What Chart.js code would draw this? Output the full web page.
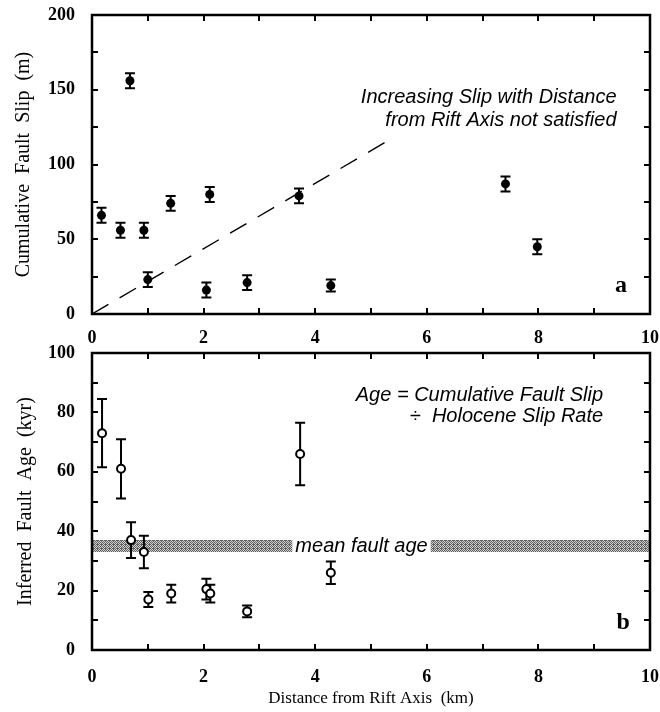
<!DOCTYPE html>
<html>
<head>
<meta charset="utf-8">
<script src="https://cdn.jsdelivr.net/npm/chart.js@4.4.1/dist/chart.umd.min.js"></script>
<style>
  html, body { margin: 0; padding: 0; background: #fff; }
  #wrap { position: relative; width: 660px; height: 712px; }
  #wrap canvas { position: absolute; left: 0; }
  #slipCanvas { top: 0; }
  #ageCanvas { top: 340px; }
</style>
</head>
<body>
<div id="wrap">
  <canvas id="slipCanvas" width="660" height="350"></canvas>
  <canvas id="ageCanvas" width="660" height="372"></canvas>
</div>
<script>
// panel a: cumulative fault slip (m) vs distance from rift axis (km)
const slipDistance = [0.17, 0.51, 0.68, 0.93, 1.00, 1.41, 2.05, 2.11, 2.78, 3.71, 4.28, 7.41, 7.98];
const slipValue    = [66, 56, 156, 56, 23, 74, 16, 80, 21, 79, 19, 87, 45];
const slipError    = [5, 5, 5, 5, 5, 5, 5, 5, 5, 5, 4, 5, 5];

// dashed reference line (slip increasing with distance)
const trendDistance = [0, 5.4];
const trendSlip     = [0, 118];

// panel b: inferred fault age (kyr)
const ageDistance = [0.18, 0.52, 0.70, 0.93, 1.01, 1.42, 2.05, 2.12, 2.78, 3.73, 4.28];
const ageValue    = [73, 61, 37, 33, 17, 19, 20.5, 19, 13, 66, 26];
const ageError    = [11.5, 10, 6, 5.5, 2.5, 3, 3.5, 3, 2, 10.5, 3.8];

// mean fault age band
const bandDistance = [0, 10];
const bandLow      = [33, 33];
const bandHigh     = [37, 37];

const serif = "'Liberation Serif', 'Times New Roman', serif";
const sans = "'Liberation Sans', Arial, sans-serif";

const toPoints = (xs, ys) => xs.map((x, i) => ({ x, y: ys[i] }));

const bandPattern = (() => {
    const c = document.createElement('canvas');
    c.width = 4;
    c.height = 4;
    const g = c.getContext('2d');
    g.fillStyle = '#d0d0d0';
    g.fillRect(0, 0, 4, 4);
    g.fillStyle = '#606060';
    [[0, 0], [2, 0], [1, 1], [3, 1], [0, 2], [2, 2], [1, 3], [3, 3], [1, 0]].forEach(([px, py]) => g.fillRect(px, py, 1, 1));
    return g.createPattern(c, 'repeat');
})();

// inward ticks on all four sides plus the heavy frame
const frameTicks = {
    id: 'frameTicks',
    afterDraw(chart) {
        const { ctx, chartArea: { left, right, top, bottom }, scales: { x, y } } = chart;
        const len = 6;
        ctx.save();
        ctx.strokeStyle = '#000';
        ctx.lineWidth = 2;
        ctx.beginPath();
        x.ticks.forEach((t) => {
            if (t.value <= x.min || t.value >= x.max) return;
            const px = Math.round(x.getPixelForValue(t.value));
            ctx.moveTo(px, bottom); ctx.lineTo(px, bottom - len);
            ctx.moveTo(px, top); ctx.lineTo(px, top + len);
        });
        y.ticks.forEach((t) => {
            if (t.value <= y.min || t.value >= y.max) return;
            const py = Math.round(y.getPixelForValue(t.value));
            ctx.moveTo(left, py); ctx.lineTo(left + len, py);
            ctx.moveTo(right, py); ctx.lineTo(right - len, py);
        });
        ctx.stroke();
        ctx.lineWidth = 2.5;
        ctx.strokeRect(left, top, right - left, bottom - top);
        ctx.restore();
    },
};

// vertical error bars with caps, drawn just before their points
const errorBars = {
    id: 'errorBars',
    beforeDatasetDraw(chart, args) {
        const ds = chart.data.datasets[args.index];
        if (!ds.errors) return;
        const { ctx, scales: { x, y } } = chart;
        const cap = 5;
        ctx.save();
        ctx.strokeStyle = '#000';
        ctx.lineWidth = 2;
        ctx.beginPath();
        ds.data.forEach((p, i) => {
            const px = x.getPixelForValue(p.x);
            const hi = y.getPixelForValue(p.y + ds.errors[i]);
            const lo = y.getPixelForValue(p.y - ds.errors[i]);
            ctx.moveTo(px, hi); ctx.lineTo(px, lo);
            ctx.moveTo(px - cap, hi); ctx.lineTo(px + cap, hi);
            ctx.moveTo(px - cap, lo); ctx.lineTo(px + cap, lo);
        });
        ctx.stroke();
        ctx.restore();
    },
};

// free text placed in data coordinates
const notes = {
    id: 'notes',
    afterDatasetsDraw(chart, args, opts) {
        const { ctx, scales: { x, y } } = chart;
        (opts.items || []).forEach((n) => {
            ctx.save();
            ctx.font = n.font;
            ctx.textAlign = n.align || 'left';
            ctx.textBaseline = n.baseline || 'alphabetic';
            const px = x.getPixelForValue(n.x);
            const py = y.getPixelForValue(n.y);
            if (n.clear) {
                const w = ctx.measureText(n.text).width;
                ctx.fillStyle = '#fff';
                ctx.fillRect(px - w / 2 - 3, py - 9, w + 6, 18);
            }
            ctx.fillStyle = '#000';
            ctx.fillText(n.text, px, py);
            ctx.restore();
        });
    },
};

const tickFont = { family: serif, size: 18, weight: 'bold' };

const xScale = (labelPad, height, title) => ({
    type: 'linear',
    min: 0,
    max: 10,
    grid: { display: false },
    border: { display: false },
    ticks: {
        stepSize: 1,
        autoSkip: false,
        maxRotation: 0,
        padding: labelPad,
        color: '#000',
        font: tickFont,
        callback: (v) => (v % 2 === 0 ? String(v) : ''),
    },
    title: title || { display: false },
    afterFit: (scale) => {
        scale.height = height;
        scale.paddingLeft = 0;
        scale.paddingRight = 0;
    },
});

const yScale = (max, step, labelStep, title) => ({
    min: 0,
    max,
    grid: { display: false },
    border: { display: false },
    ticks: {
        stepSize: step,
        autoSkip: false,
        padding: 9,
        color: '#000',
        font: tickFont,
        callback: (v) => (v % labelStep === 0 ? String(v) : ''),
    },
    title,
    afterFit: (scale) => {
        scale.width = 92;
        scale.paddingTop = 0;
        scale.paddingBottom = 0;
    },
});

Chart.defaults.animation = false;

new Chart(document.getElementById('slipCanvas'), {
    type: 'scatter',
    data: {
        datasets: [
            {
                data: toPoints(slipDistance, slipValue),
                errors: slipError,
                pointRadius: 4.5,
                pointBackgroundColor: '#000',
                pointBorderColor: '#000',
                pointBorderWidth: 0,
                order: 0,
            },
            {
                type: 'line',
                data: toPoints(trendDistance, trendSlip),
                borderColor: '#000',
                borderWidth: 1.4,
                borderDash: [19, 13],
                pointRadius: 0,
                order: 1,
            },
        ],
    },
    options: {
        responsive: false,
        layout: { padding: { left: 0, right: 10, top: 15, bottom: 0 } },
        plugins: {
            legend: { display: false },
            tooltip: { enabled: false },
            notes: {
                items: [
                    { text: 'Increasing Slip with Distance', x: 9.4, y: 141, align: 'right', font: `italic 20px ${sans}` },
                    { text: 'from Rift Axis not satisfied', x: 9.4, y: 125.5, align: 'right', font: `italic 20px ${sans}` },
                    { text: 'a', x: 9.48, y: 19, align: 'center', baseline: 'middle', font: `bold 24px ${serif}` },
                ],
            },
        },
        scales: {
            x: xScale(6, 36),
            y: yScale(200, 25, 50, {
                display: true,
                text: 'Cumulative  Fault  Slip  (m)',
                color: '#000',
                font: { family: serif, size: 20 },
                padding: { top: 12, bottom: 0 },
            }),
        },
    },
    plugins: [frameTicks, errorBars, notes],
});

new Chart(document.getElementById('ageCanvas'), {
    type: 'scatter',
    data: {
        datasets: [
            {
                data: toPoints(ageDistance, ageValue),
                errors: ageError,
                pointRadius: 4,
                pointBackgroundColor: '#fff',
                pointBorderColor: '#000',
                pointBorderWidth: 2,
                order: 0,
            },
            {
                type: 'line',
                data: toPoints(bandDistance, bandLow),
                borderWidth: 0,
                pointRadius: 0,
                order: 2,
            },
            {
                type: 'line',
                data: toPoints(bandDistance, bandHigh),
                borderWidth: 0,
                pointRadius: 0,
                backgroundColor: bandPattern,
                fill: '-1',
                order: 1,
            },
        ],
    },
    options: {
        responsive: false,
        layout: { padding: { left: 0, right: 10, top: 13, bottom: 0 } },
        plugins: {
            legend: { display: false },
            tooltip: { enabled: false },
            filler: { propagate: false },
            notes: {
                items: [
                    { text: 'mean fault age', x: 4.83, y: 35, align: 'center', baseline: 'middle', clear: true, font: `italic 20px ${sans}` },
                    { text: 'Age = Cumulative Fault Slip', x: 9.16, y: 83.8, align: 'right', font: `italic 20px ${sans}` },
                    { text: '÷  Holocene Slip Rate', x: 9.16, y: 76.8, align: 'right', font: `italic 20px ${sans}` },
                    { text: 'b', x: 9.52, y: 9.1, align: 'center', baseline: 'middle', font: `bold 24px ${serif}` },
                ],
            },
        },
        scales: {
            x: xScale(9, 62, {
                display: true,
                text: 'Distance from Rift Axis  (km)',
                color: '#000',
                font: { family: serif, size: 17 },
                padding: { top: 0, bottom: 3 },
            }),
            y: yScale(100, 10, 20, {
                display: true,
                text: 'Inferred  Fault  Age  (kyr)',
                color: '#000',
                font: { family: serif, size: 20 },
                padding: { top: 14, bottom: 0 },
            }),
        },
    },
    plugins: [frameTicks, errorBars, notes],
});
</script>
</body>
</html>
